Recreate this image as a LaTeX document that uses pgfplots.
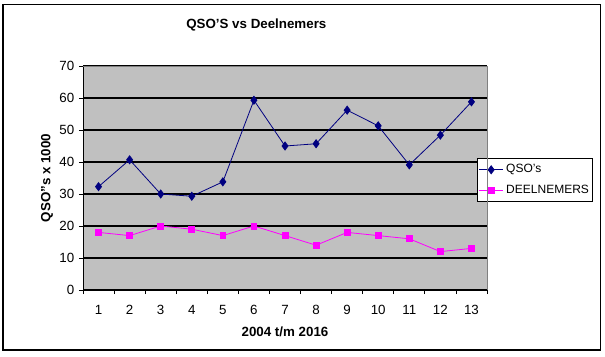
\documentclass[border=0pt]{standalone}
\usepackage{fontspec}
\setmainfont{Liberation Sans}
\usepackage{pgfplots}
\pgfplotsset{compat=1.18}
\definecolor{navyblue}{RGB}{0,0,128}
\definecolor{pinkm}{RGB}{255,0,255}
\definecolor{plotgray}{RGB}{192,192,192}
\definecolor{frame}{RGB}{128,128,128}
\begin{document}
\begin{tikzpicture}
\useasboundingbox (-62.25pt,-49.5pt) rectangle (391.5pt,217.5pt);
\fill[white] (-62.25pt,-49.5pt) rectangle (391.5pt,217.5pt);
\draw[black,line width=0.8pt] (-60pt,-45pt) rectangle (388pt,214pt);
\begin{axis}[
  at={(0,0)}, anchor=south west,
  scale only axis, width=303pt, height=168pt,
  xmin=0.5, xmax=13.5, ymin=0, ymax=70,
  axis background/.style={fill=plotgray},
  axis x line*=bottom, axis y line*=left,
  axis line style={black,line width=0.6pt},
  xtick={1,...,13}, major x tick style={draw=none},
  minor xtick={0.5,1.5,...,13.5},
  minor x tick style={black,line width=0.6pt},
  minor tick length=3pt,
  ytick={0,10,...,70},
  y tick style={black,line width=0.6pt},
  major tick length=3pt,
  tick align=outside,
  ymajorgrids, grid style={black,line width=0.8pt},
  tick label style={font=\fontsize{10}{12}\selectfont},
  xticklabel style={yshift=-5pt},
  /pgf/number format/assume math mode=true,
  xlabel={\textbf{2004 t/m 2016}},
  ylabel={\textbf{QSO"s x 1000}},
  xlabel style={font=\fontsize{10}{12}\selectfont, yshift=-2.5pt},
  ylabel style={font=\fontsize{10}{12}\selectfont, yshift=-2pt},
  legend style={at={(rel axis cs:0.975,0.589)}, anchor=north west,
    draw=black, line width=0.8pt, fill=white,
    font=\fontsize{9}{11}\selectfont, inner xsep=1pt, inner ysep=2.5pt, row sep=3.5pt,
    legend cell align=left},
  legend image code/.code={%
    \draw[mark repeat=2,mark phase=2,#1] plot coordinates {(0pt,0pt) (9pt,0pt) (18pt,0pt)};},
  clip=false,
]
\addplot[navyblue, line width=0.6pt, mark=diamond*, mark size=3pt, mark options={solid,fill=navyblue}]
  coordinates {(1,32.3) (2,40.7) (3,30) (4,29.3) (5,33.8) (6,59.3) (7,45) (8,45.7) (9,56.2) (10,51.3) (11,39.1) (12,48.4) (13,58.8)};
\addlegendentry{QSO's}
\addplot[pinkm, line width=0.6pt, mark=square*, mark size=2.2pt, mark options={solid,fill=pinkm}]
  coordinates {(1,18) (2,17) (3,20) (4,19) (5,17) (6,20) (7,17) (8,14) (9,18) (10,17) (11,16) (12,12) (13,13)};
\addlegendentry{DEELNEMERS}
\end{axis}
\node[font=\bfseries\fontsize{10}{12}\selectfont] at (130pt,198.75pt) {QSO'S vs Deelnemers};
\draw[frame,line width=0.6pt] (0,168pt) -- (303pt,168pt) -- (303pt,0);
\end{tikzpicture}
\end{document}
